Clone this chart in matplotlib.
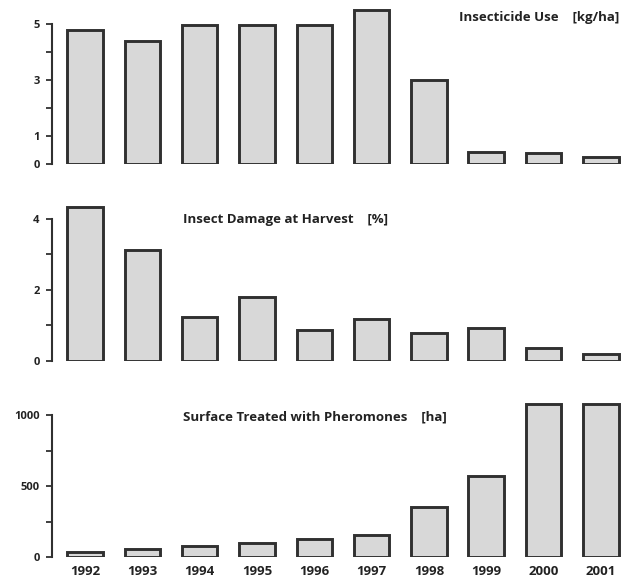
import matplotlib
matplotlib.use("Agg")
import matplotlib.pyplot as plt

years = ["1992", "1993", "1994", "1995", "1996", "1997", "1998", "1999", "2000", "2001"]
insecticide = [4.79, 4.39, 4.96, 4.96, 4.96, 5.5, 3.0, 0.43, 0.39, 0.25]
damage = [4.34, 3.13, 1.24, 1.8, 0.87, 1.18, 0.79, 0.93, 0.37, 0.2]
pheromones = [35, 56, 77, 99, 127, 155, 352, 570, 1077, 1077]

titles = ["Insecticide Use    [kg/ha]", "Insect Damage at Harvest    [%]",
          "Surface Treated with Pheromones    [ha]"]

plt.rcParams['font.family'] = ['Open Sans', 'DejaVu Sans']

fig = plt.figure(figsize=(6.31, 5.83), dpi=100)
W, H = 631, 583

def make_ax(y0, y1):
    left, right = 52, 625
    return fig.add_axes([left / W, 1 - y0 / H, (right - left) / W, (y0 - y1) / H])

specs = [
    (164, 7, insecticide, (0, 5.6), [0, 1, 2, 3, 4, 5], ["0", "1", "", "3", "", "5"], (0, 5), titles[0], (0.99, 0.93), "right"),
    (361, 201, damage, (0, 4.5), [0, 1, 2, 3, 4], ["0", "", "2", "", "4"], (0, 4), titles[1], (0.228, 0.885), "left"),
    (557, 401, pheromones, (0, 1100), [0, 250, 500, 750, 1000], ["0", "", "500", "", "1000"], (0, 1000), titles[2], (0.228, 0.90), "left"),
]

x = list(range(len(years)))
for i, (y0, y1, vals, ylim, ticks, tlabels, bounds, title, tpos, ha) in enumerate(specs):
    ax = make_ax(y0, y1)
    ax.bar(x, vals, width=0.62, color="#d8d8d8", edgecolor="#303030", linewidth=2.1)
    ax.set_xlim(-0.575, 9.42)
    ax.set_ylim(*ylim)
    for s in ["top", "right", "bottom"]:
        ax.spines[s].set_visible(False)
    ax.spines["left"].set_bounds(*bounds)
    ax.spines["left"].set_linewidth(1.5)
    ax.spines["left"].set_color("#303030")
    ax.set_yticks(ticks)
    ax.set_yticklabels(tlabels, fontsize=8, fontweight="bold", color="#222222")
    ax.tick_params(axis="y", length=4, width=1.3, color="#303030", pad=5)
    if i == 2:
        ax.set_xticks(x)
        ax.set_xticklabels(years, fontsize=9.5, fontweight="bold", color="#222222")
        ax.tick_params(axis="x", length=0, pad=6)
    else:
        ax.set_xticks([])
    ax.text(tpos[0], tpos[1], title, transform=ax.transAxes, ha=ha, va="center",
            fontsize=9.5, fontweight="bold", color="#222222")

fig.savefig("out.png", dpi=100)
